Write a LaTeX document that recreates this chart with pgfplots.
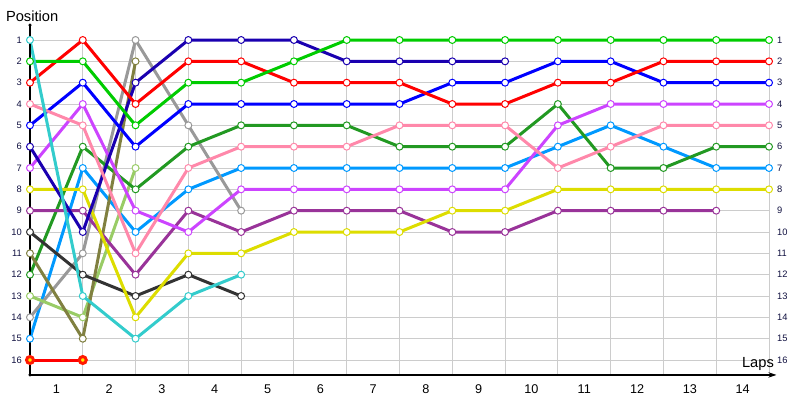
\documentclass[border=0pt]{standalone}
\usepackage{fontspec}
\setmainfont{Liberation Sans}
\usepackage{pgfplots}
\pgfplotsset{compat=1.18}
\usetikzlibrary{arrows.meta}

\definecolor{gridc}{HTML}{CCCCCC}
\definecolor{labelc}{HTML}{101040}
\definecolor{cCyan}{HTML}{33CCCC}
\definecolor{cGreen}{HTML}{00CC00}
\definecolor{cRed}{HTML}{FF0000}
\definecolor{cPink}{HTML}{FF88AA}
\definecolor{cBlue}{HTML}{0000FF}
\definecolor{cNavy}{HTML}{1A00B0}
\definecolor{cMagenta}{HTML}{CC44FF}
\definecolor{cYellow}{HTML}{DDDD00}
\definecolor{cPurple}{HTML}{993399}
\definecolor{cBlack}{HTML}{333333}
\definecolor{cOlive}{HTML}{808040}
\definecolor{cDkGreen}{HTML}{229922}
\definecolor{cLtGreen}{HTML}{99CC66}
\definecolor{cGray}{HTML}{999999}
\definecolor{cLtBlue}{HTML}{0099FF}
\definecolor{cMarkYellow}{HTML}{FFEE00}

\pgfplotsset{
    lap/.style={line width=2.25pt, mark=*, mark size=2.6pt,
        mark options={fill=white, line width=0.75pt}},
}

\begin{document}
\begin{tikzpicture}
\begin{axis}[
    x=39.59pt, y=16pt,
    y dir=reverse,
    xmin=0, xmax=14,
    ymin=1, ymax=16.7,
    clip=false,
    axis line style={draw=none},
    major tick length=0, minor tick length=0,
    xtick={0.5,1.5,...,13.5},
    xticklabels={1,2,3,4,5,6,7,8,9,10,11,12,13,14},
    minor xtick={1,...,14},
    xminorgrids=true, xmajorgrids=false,
    ytick={1,...,16},
    ymajorgrids=true,
    grid style={color=gridc, line width=0.75pt},
    minor grid style={color=gridc, line width=0.75pt},
    xticklabel pos=lower,
    ytick pos=left,
    /pgf/number format/assume math mode=true,
    xticklabel style={font=\fontsize{9.5}{10}\selectfont, anchor=north, inner sep=0pt, yshift=-7pt},
    yticklabel style={font=\fontsize{7}{8}\selectfont, color=labelc, anchor=east, inner sep=0pt, xshift=-6pt},
]
% starting position 16
\addplot[lap, cRed, mark options={fill=cMarkYellow, draw=cRed!80!orange}]
    coordinates {(0,16)(1,16)};
% 15
\addplot[lap, cLtBlue] coordinates {(0,15)(1,7)(2,10)(3,8)(4,7)(5,7)(6,7)(7,7)(8,7)(9,7)(10,6)(11,5)(12,6)(13,7)(14,7)};
% 14
\addplot[lap, cGray] coordinates {(0,14)(1,11)(2,1)(3,5)(4,9)};
% 13
\addplot[lap, cLtGreen] coordinates {(0,13)(1,14)(2,7)};
% 12
\addplot[lap, cDkGreen] coordinates {(0,12)(1,6)(2,8)(3,6)(4,5)(5,5)(6,5)(7,6)(8,6)(9,6)(10,4)(11,7)(12,7)(13,6)(14,6)};
% 11
\addplot[lap, cOlive] coordinates {(0,11)(1,15)(2,2)};
% 10
\addplot[lap, cBlack] coordinates {(0,10)(1,12)(2,13)(3,12)(4,13)};
% 9
\addplot[lap, cPurple] coordinates {(0,9)(1,9)(2,12)(3,9)(4,10)(5,9)(6,9)(7,9)(8,10)(9,10)(10,9)(11,9)(12,9)(13,9)};
% 8
\addplot[lap, cYellow] coordinates {(0,8)(1,8)(2,14)(3,11)(4,11)(5,10)(6,10)(7,10)(8,9)(9,9)(10,8)(11,8)(12,8)(13,8)(14,8)};
% 7
\addplot[lap, cMagenta] coordinates {(0,7)(1,4)(2,9)(3,10)(4,8)(5,8)(6,8)(7,8)(8,8)(9,8)(10,5)(11,4)(12,4)(13,4)(14,4)};
% 6
\addplot[lap, cNavy] coordinates {(0,6)(1,10)(2,3)(3,1)(4,1)(5,1)(6,2)(7,2)(8,2)(9,2)};
% 5
\addplot[lap, cBlue] coordinates {(0,5)(1,3)(2,6)(3,4)(4,4)(5,4)(6,4)(7,4)(8,3)(9,3)(10,2)(11,2)(12,3)(13,3)(14,3)};
% 4
\addplot[lap, cPink] coordinates {(0,4)(1,5)(2,11)(3,7)(4,6)(5,6)(6,6)(7,5)(8,5)(9,5)(10,7)(11,6)(12,5)(13,5)(14,5)};
% 3
\addplot[lap, cRed] coordinates {(0,3)(1,1)(2,4)(3,2)(4,2)(5,3)(6,3)(7,3)(8,4)(9,4)(10,3)(11,3)(12,2)(13,2)(14,2)};
% 2
\addplot[lap, cGreen] coordinates {(0,2)(1,2)(2,5)(3,3)(4,3)(5,2)(6,1)(7,1)(8,1)(9,1)(10,1)(11,1)(12,1)(13,1)(14,1)};
% 1
\addplot[lap, cCyan] coordinates {(0,1)(1,13)(2,15)(3,13)(4,12)};

% axis lines
\draw[line width=1pt] (axis cs:0,0.3) -- (axis cs:0,16.7);
\draw[line width=1pt, -{Stealth[length=6pt,width=4pt]}] (axis cs:0,16.7) -- (axis cs:14.14,16.7);
\fill (axis cs:0,0.3) circle (1.3pt);
\fill (axis cs:0,16.7) circle (1.3pt);

% right-hand position labels
\pgfplotsinvokeforeach{1,...,16}{
    \node[anchor=west, inner sep=0pt, color=labelc, font=\fontsize{7}{8}\selectfont]
        at (axis cs:14.15,#1) {#1};
}

\node[font=\fontsize{11}{12}\selectfont] at (axis cs:0.04,-0.12) {Position};
\node[font=\fontsize{11}{12}\selectfont] at (axis cs:13.79,16.19) {Laps};

% bounding box (800 x 400 px)
\path (axis cs:-0.568,-0.875) rectangle (axis cs:14.587,17.875);
\end{axis}
\end{tikzpicture}
\end{document}
